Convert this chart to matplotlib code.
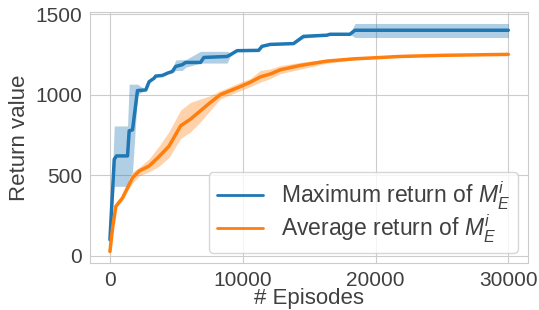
import matplotlib
matplotlib.use('Agg')
import matplotlib.pyplot as plt
import seaborn as sns

# maximum return (blue): episode, value, band low, band high
max_ep = [0, 325, 500, 1325, 1450, 1700, 2075, 2700, 2950, 3325, 3450, 3950, 4325, 4700,
          4950, 5450, 5700, 6825, 7075, 8825, 9075, 9575, 11200, 11450, 12075, 13825,
          14575, 16325, 16575, 18075, 18450, 30000]
max_val = [98, 598, 619, 619, 775, 781, 1025, 1029, 1080, 1102, 1115, 1119, 1133, 1144,
           1175, 1186, 1200, 1200, 1231, 1237, 1248, 1273, 1275, 1300, 1312, 1317,
           1362, 1369, 1375, 1375, 1400, 1400]
max_lo = [98, 430, 430, 430, 480, 520, 1000, 1029, 1080, 1102, 1115, 1119, 1133, 1135,
          1150, 1150, 1170, 1196, 1196, 1196, 1240, 1273, 1275, 1300, 1312, 1317,
          1350, 1369, 1375, 1375, 1355, 1355]
max_hi = [98, 805, 805, 805, 1065, 1065, 1065, 1029, 1080, 1102, 1115, 1119, 1133, 1160,
          1215, 1217, 1217, 1269, 1269, 1269, 1260, 1273, 1275, 1300, 1312, 1317,
          1370, 1369, 1375, 1375, 1442, 1442]

# average return (orange)
avg_ep = [0, 200, 450, 950, 1325, 1700, 2200, 2950, 3700, 4450, 5325, 6075, 6825, 7575,
          8325, 9075, 9825, 10575, 11325, 12075, 12825, 14325, 16325, 18325, 20000,
          21825, 25000, 30000]
avg_val = [25, 171, 306, 358, 421, 483, 525, 556, 615, 680, 806, 848, 900, 952,
           1000, 1025, 1050, 1077, 1110, 1128, 1154, 1181, 1208, 1222, 1229,
           1237, 1244, 1250]
avg_lo = [25, 165, 295, 345, 400, 450, 495, 520, 555, 610, 727, 769, 831, 904,
          973, 1000, 1025, 1050, 1077, 1100, 1130, 1158, 1195, 1216, 1226,
          1235, 1243, 1249]
avg_hi = [25, 180, 315, 370, 440, 520, 548, 600, 680, 770, 904, 952, 973, 994,
          1025, 1050, 1077, 1100, 1150, 1160, 1180, 1200, 1220, 1228, 1232,
          1239, 1245, 1251]

sns.set_style('whitegrid')
plt.rcParams['font.family'] = ['Liberation Sans', 'DejaVu Sans']
plt.rcParams['mathtext.fontset'] = 'custom'
plt.rcParams['mathtext.it'] = 'Liberation Sans:italic'
plt.rcParams['mathtext.rm'] = 'Liberation Sans'
plt.rcParams['text.color'] = '.25'
plt.rcParams['axes.labelcolor'] = '.25'
plt.rcParams['xtick.color'] = '.25'
plt.rcParams['ytick.color'] = '.25'

blue = '#1f77b4'
orange = '#ff7f0e'

fig = plt.figure(figsize=(5.39, 3.10), dpi=100)
ax = fig.add_axes([0.167, 0.152, 0.813, 0.809])

ax.fill_between(max_ep, max_lo, max_hi, color=blue, alpha=0.35, linewidth=0)
ax.fill_between(avg_ep, avg_lo, avg_hi, color=orange, alpha=0.35, linewidth=0)
ax.plot(max_ep, max_val, color=blue, lw=2.5, label=r'Maximum return of $M_E^i$')
ax.plot(avg_ep, avg_val, color=orange, lw=2.5, label=r'Average return of $M_E^i$')

ax.set_yticks([0, 500, 1000, 1500])
ax.set_xticks([0, 10000, 20000, 30000])
ax.tick_params(labelsize=15, pad=2)
ax.set_xlabel('# Episodes', fontsize=16, labelpad=-1)
ax.set_ylabel('Return value', fontsize=16, labelpad=4)
leg = ax.legend(loc='lower right', fontsize=16.5, frameon=True, borderaxespad=0.45,
                labelspacing=0.02, borderpad=0.35, shadow=False)
for line in leg.get_lines():
    line.set_linewidth(2.0)

fig.savefig('out.png', dpi=100)
